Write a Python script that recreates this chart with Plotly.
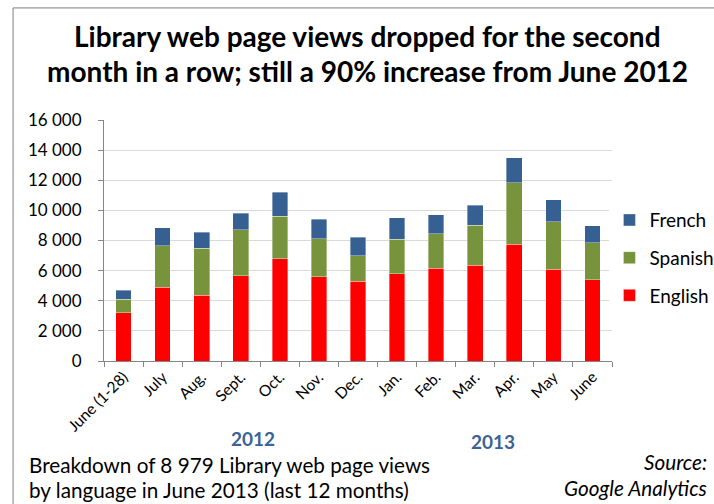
"""Stacked bars of library web page views by language, June 2012 - June 2013"""

import plotly.graph_objects as go

months = [
    "June (1-28)", "July", "Aug.", "Sept.", "Oct.", "Nov.", "Dec.",
    "Jan.", "Feb.", "Mar.", "Apr.", "May", "June",
]
english = [3200, 4900, 4350, 5650, 6800, 5600, 5300, 5800, 6150, 6350, 7750, 6100, 5400]
spanish = [900, 2750, 3150, 3050, 2800, 2500, 1700, 2280, 2300, 2650, 4100, 3150, 2450]
french = [600, 1200, 1050, 1100, 1600, 1300, 1200, 1420, 1250, 1350, 1650, 1450, 1129]

y_ticks = [0, 2000, 4000, 6000, 8000, 10000, 12000, 14000, 16000]
y_tick_labels = ["0", "2 000", "4 000", "6 000", "8 000", "10 000", "12 000", "14 000", "16 000"]

FONT = "Lato"
AXIS_GREY = "#868686"

x_pos = list(range(len(months)))

fig = go.Figure()
series = [
    ("English", english, "#FF0000", 3),
    ("Spanish", spanish, "#77933C", 2),
    ("French", french, "#376092", 1),
]
for name, values, colour, rank in series:
    fig.add_trace(
        go.Bar(
            x=x_pos,
            y=values,
            name=name,
            legendgroup=name,
            legendrank=rank,
            width=0.4,
            marker=dict(color=colour, line=dict(color="rgba(255,255,255,0.45)", width=0.8)),
        )
    )

fig.update_layout(
    barmode="stack",
    width=714,
    height=504,
    margin=dict(l=104, r=102, t=120, b=143, autoexpand=False),
    paper_bgcolor="white",
    plot_bgcolor="white",
    font=dict(family=FONT, color="#000000", size=15),
    legend=dict(
        x=0.995,
        xanchor="left",
        y=0.427,
        yanchor="middle",
        traceorder="grouped",
        tracegroupgap=10,
        itemwidth=30,
        font=dict(size=19, family=FONT),
    ),
)

fig.update_xaxes(
    range=[-0.5, len(months) - 0.5],
    tickvals=x_pos,
    ticktext=months,
    tickangle=-45,
    ticks="",
    tickfont=dict(size=15.5, family=FONT),
    showline=True,
    linecolor=AXIS_GREY,
    linewidth=1,
    showgrid=False,
    zeroline=False,
    automargin=False,
    minor=dict(tick0=-0.5, dtick=1, ticks="outside", ticklen=5, tickcolor=AXIS_GREY, showgrid=False),
)
fig.update_yaxes(
    range=[0, 16000],
    tickvals=y_ticks,
    ticktext=y_tick_labels,
    ticks="outside",
    ticklen=5,
    tickcolor=AXIS_GREY,
    ticklabelstandoff=13,
    tickfont=dict(size=17, family=FONT),
    showline=True,
    linecolor=AXIS_GREY,
    linewidth=1,
    showgrid=True,
    gridcolor="#D9D9D9",
    gridwidth=1,
    zeroline=False,
    automargin=False,
)

# outer frame of the chart area
fig.add_shape(
    type="rect", xref="paper", yref="paper",
    x0=-0.179, x1=1.4, y0=-0.8, y1=1.465,
    line=dict(color="#7F7F7F", width=1), layer="below",
)

title_lines = [
    "Library web page views dropped for the second",
    "month in a row; still a 90% increase from June 2012",
]
for line, ypos in zip(title_lines, [1.348, 1.205]):
    fig.add_annotation(
        text=f"<b>{line}</b>", xref="paper", yref="paper", x=0.518, y=ypos,
        xanchor="center", yanchor="middle", showarrow=False,
        font=dict(size=28, family=FONT, color="#000000"),
    )

years = ["2012", "2013"]
for year, xpos, ypos in zip(years, [0.293, 0.766], [-0.32, -0.333]):
    fig.add_annotation(
        text=f"<b>{year}</b>", xref="paper", yref="paper", x=xpos, y=ypos,
        xanchor="center", yanchor="middle", showarrow=False,
        font=dict(size=19, family=FONT, color="#3B6396"),
    )

footer_left = ["Breakdown of 8 979 Library web page views", "by language in June 2013 (last 12 months)"]
for line, ypos in zip(footer_left, [-0.43, -0.535]):
    fig.add_annotation(
        text=line, xref="paper", yref="paper", x=-0.152, y=ypos,
        xanchor="left", yanchor="middle", showarrow=False,
        font=dict(size=20.7, family=FONT, color="#000000"),
    )

footer_right = ["Source:", "Google Analytics"]
for line, ypos in zip(footer_right, [-0.42, -0.528]):
    fig.add_annotation(
        text=f"<i>{line}</i>", xref="paper", yref="paper", x=1.19, y=ypos,
        xanchor="right", yanchor="middle", showarrow=False,
        font=dict(size=20.7, family=FONT, color="#000000"),
    )

# the page's default body margin would push the figure 8px off the window
fig.write_html(
    "out.html",
    config={"displayModeBar": False},
    post_script="document.body.style.margin = '0';",
)
